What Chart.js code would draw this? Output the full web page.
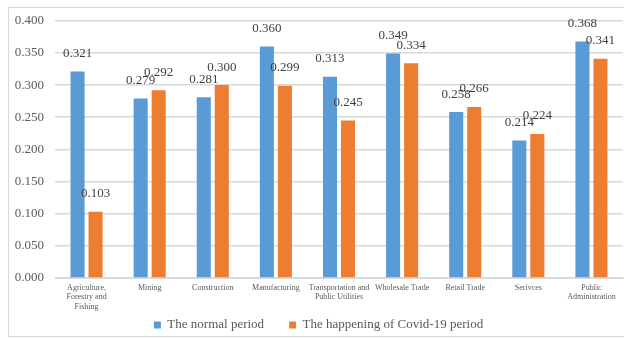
<!DOCTYPE html>
<html lang="en">
<head>
  <meta charset="UTF-8" />
  <title>Normal period vs Covid-19 period</title>
  <script src="https://cdn.jsdelivr.net/npm/chart.js"></script>
  <style>
    html, body { margin: 0; padding: 0; background: #ffffff; overflow: hidden; }
    #moldura {
      position: absolute; left: 8px; top: 7px;
      width: 640px; height: 328px;
      border: 1px solid #d9d9d9;
    }
    #grafico { position: absolute; left: 9px; top: 2px; }
  </style>
</head>
<body>
  <div id="moldura"></div>
  <canvas id="grafico" width="640" height="359"></canvas>

<script>
// categorias (eixo x), uma linha por item de texto
const categorias = [
  ['Agriculture,', 'Forestry and', 'Fishing'],
  'Mining',
  'Construction',
  'Manufacturing',
  ['Transportation and', 'Public Utilities'],
  'Wholesale Trade',
  'Retail Trade',
  'Serivces',
  ['Public', 'Administration']
];

const periodoNormal = [0.321, 0.279, 0.281, 0.360, 0.313, 0.349, 0.258, 0.214, 0.368];
const periodoCovid  = [0.103, 0.292, 0.300, 0.299, 0.245, 0.334, 0.266, 0.224, 0.341];

const ticksY = [0, 0.05, 0.1, 0.15, 0.2, 0.25, 0.3, 0.35, 0.4];

const fonte = "'Liberation Serif', 'Times New Roman', serif";

// rotulos de valor acima de cada barra
const rotulosValor = {
  id: 'rotulosValor',
  afterDatasetsDraw(chart) {
    const ctx = chart.ctx;
    ctx.save();
    ctx.font = '13px ' + fonte;
    ctx.fillStyle = '#404040';
    ctx.textAlign = 'center';
    ctx.textBaseline = 'middle';
    chart.data.datasets.forEach(function (ds, i) {
      chart.getDatasetMeta(i).data.forEach(function (barra, j) {
        ctx.fillText(ds.data[j].toFixed(3), barra.x, barra.y - 18);
      });
    });
    ctx.restore();
  }
};

// sobe a legenda para ficar mais perto dos rotulos do eixo x
const subirLegenda = {
  id: 'subirLegenda',
  afterLayout(chart) {
    if (chart.legend) {
      chart.legend.top -= 19.5;
      chart.legend.bottom -= 19.5;
    }
  }
};

const dados = {
  labels: categorias,
  datasets: [
    {
      label: 'The normal period',
      data: periodoNormal,
      backgroundColor: '#5B9BD5',
      barPercentage: 0.78,
      categoryPercentage: 0.571
    },
    {
      label: 'The happening of Covid-19 period',
      data: periodoCovid,
      backgroundColor: '#ED7D31',
      barPercentage: 0.78,
      categoryPercentage: 0.571
    }
  ]
};

const config = {
  type: 'bar',
  data: dados,
  plugins: [rotulosValor, subirLegenda],
  options: {
    responsive: false,
    animation: false,
    layout: { padding: { left: 5, right: 26, top: 0, bottom: 0 } },
    plugins: {
      tooltip: { enabled: false },
      legend: {
        position: 'bottom',
        labels: {
          boxWidth: 7,
          boxHeight: 7,
          padding: 25,
          color: '#595959',
          font: { family: fonte, size: 13 }
        }
      }
    },
    scales: {
      x: {
        grid: { display: false, drawTicks: false },
        border: { color: '#d9d9d9' },
        afterFit(scale) { scale.height = 35; },
        ticks: {
          color: '#595959',
          padding: 5,
          maxRotation: 0,
          autoSkip: false,
          font: { family: fonte, size: 8 }
        }
      },
      y: {
        min: 0,
        max: 0.4,
        afterBuildTicks(scale) {
          scale.ticks = ticksY.map(function (v) { return { value: v }; });
        },
        afterFit(scale) { scale.width = 41; },
        grid: { color: '#d9d9d9', lineWidth: 1.5, drawTicks: false },
        border: { display: false },
        ticks: {
          color: '#595959',
          padding: 11,
          font: { family: fonte, size: 13 },
          callback: function (v) { return Number(v).toFixed(3); }
        }
      }
    }
  }
};

let grafico = new Chart(document.getElementById('grafico'), config);
</script>
</body>
</html>
